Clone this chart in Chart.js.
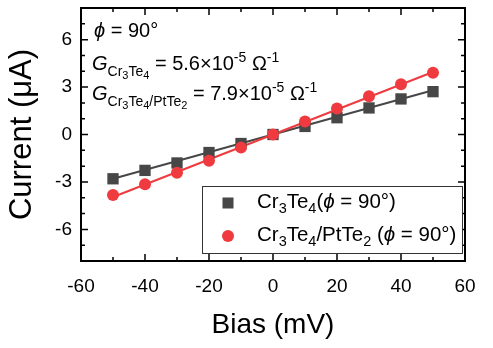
<!DOCTYPE html>
<html>
<head>
<meta charset="utf-8">
<script src="https://cdn.jsdelivr.net/npm/chart.js@4.4.1/dist/chart.umd.min.js"></script>
<style>
  html, body { margin: 0; padding: 0; background: #fff; }
  #wrap { width: 493px; height: 348px; }
</style>
</head>
<body>
<div id="wrap"><canvas id="grafica"></canvas></div>
<script>
// bias sweep (mV) and measured current (µA)
const bias = [-50, -40, -30, -20, -10, 0, 10, 20, 30, 40, 50];
const corrienteCrTe = [-2.80, -2.27, -1.80, -1.14, -0.57, 0, 0.51, 1.06, 1.68, 2.25, 2.71];
const corrientePtTe = [-3.82, -3.14, -2.42, -1.66, -0.83, 0, 0.82, 1.64, 2.42, 3.18, 3.90];

// linear fits, I = G * V  (G in 1e-5 S)
const ajusteBias = [-50, 50];
const ajusteCrTe = [-2.80, 2.80];
const ajustePtTe = [-3.95, 3.95];

const xTicks = [-60, -40, -20, 0, 20, 40, 60];
const yTicks = [-6, -3, 0, 3, 6];

const gris = "#474747";
const rojo = "#ef3b3f";
const FONT = "'Liberation Sans', Arial, sans-serif";

const toXY = (xs, ys) => xs.map((x, i) => ({ x: x, y: ys[i] }));

// text with sub/superscripts, runs = [texto, size, dy, italic]
function drawRuns(ctx, x, y, runs) {
  ctx.textBaseline = "alphabetic";
  ctx.textAlign = "left";
  runs.forEach((r) => {
    ctx.font = (r[3] ? "italic " : "") + r[1] + "px " + FONT;
    ctx.fillText(r[0], x, y + r[2]);
    x += ctx.measureText(r[0]).width;
  });
  return x;
}

const txt = (t) => [t, 20, 0, false];
const ital = (t) => [t, 20, 0, true];
const sub = (t) => [t, 14, 6, false];
const sub2 = (t) => [t, 11, 9, false];
const sup = (t) => [t, 14, -8, false];
const leyTxt = (t) => [t, 20.5, 0, false];
const leyIt = (t) => [t, 20.5, 0, true];
const leySub = (t) => [t, 14.5, 5, false];

const marcoPlugin = {
  id: "marco",
  afterDatasetsDraw(chart) {
    const ctx = chart.ctx;
    const a = chart.chartArea;
    const xs = chart.scales.x;
    const ys = chart.scales.y;
    ctx.save();
    ctx.strokeStyle = "#000";

    // ticks hacia adentro en los cuatro lados
    ctx.lineWidth = 1.5;
    xs.ticks.forEach((t) => {
      const px = xs.getPixelForValue(t.value);
      const len = xTicks.includes(t.value) ? 7 : 4;
      ctx.beginPath();
      ctx.moveTo(px, a.bottom); ctx.lineTo(px, a.bottom - len);
      ctx.moveTo(px, a.top); ctx.lineTo(px, a.top + len);
      ctx.stroke();
    });
    ys.ticks.forEach((t) => {
      const py = ys.getPixelForValue(t.value);
      const len = yTicks.includes(t.value) ? 7 : 4;
      ctx.beginPath();
      ctx.moveTo(a.left, py); ctx.lineTo(a.left + len, py);
      ctx.moveTo(a.right, py); ctx.lineTo(a.right - len, py);
      ctx.stroke();
    });

    ctx.lineWidth = 2;
    ctx.strokeRect(a.left, a.top, a.right - a.left, a.bottom - a.top);

    // anotaciones
    ctx.fillStyle = "#000";
    drawRuns(ctx, 94, 37, [ital("ϕ"), txt(" = 90°")]);
    drawRuns(ctx, 92, 70, [ital("G"), sub("Cr"), sub2("3"), sub("Te"), sub2("4"),
      txt(" = 5.6×10"), sup("-5"), txt(" Ω"), sup("-1")]);
    drawRuns(ctx, 92, 100, [ital("G"), sub("Cr"), sub2("3"), sub("Te"), sub2("4"),
      sub("/PtTe"), sub2("2"), txt(" = 7.9×10"), sup("-5"), txt(" Ω"), sup("-1")]);

    // leyenda
    const lx = 202, ly = 186, lw = 260, lh = 67;
    ctx.fillStyle = "#fff";
    ctx.fillRect(lx, ly, lw, lh);
    ctx.lineWidth = 1;
    ctx.strokeStyle = "#333";
    ctx.strokeRect(lx + 0.5, ly + 0.5, lw, lh);

    ctx.fillStyle = gris;
    ctx.fillRect(228 - 5.5, 203 - 5.5, 11, 11);
    ctx.fillStyle = rojo;
    ctx.beginPath();
    ctx.arc(228, 236, 6, 0, Math.PI * 2);
    ctx.fill();

    ctx.fillStyle = "#000";
    drawRuns(ctx, 257, 208, [leyTxt("Cr"), leySub("3"), leyTxt("Te"), leySub("4"),
      leyTxt("("), leyIt("ϕ"), leyTxt(" = 90°)")]);
    drawRuns(ctx, 257, 241, [leyTxt("Cr"), leySub("3"), leyTxt("Te"), leySub("4"),
      leyTxt("/PtTe"), leySub("2"), leyTxt(" ("), leyIt("ϕ"), leyTxt(" = 90°)")]);
    ctx.restore();
  },
};

const ctx = document.getElementById("grafica").getContext("2d");
window.myChart = new Chart(ctx, {
  type: "scatter",
  data: {
    datasets: [
      {
        label: "Cr3Te4/PtTe2 (ϕ = 90°)",
        data: toXY(bias, corrientePtTe),
        pointStyle: "circle",
        pointRadius: 6,
        backgroundColor: rojo,
        borderWidth: 0,
        order: 0,
      },
      {
        label: "Cr3Te4 (ϕ = 90°)",
        data: toXY(bias, corrienteCrTe),
        pointStyle: "rect",
        pointRadius: 8,
        backgroundColor: gris,
        borderWidth: 0,
        order: 1,
      },
      {
        label: "ajuste PtTe2",
        data: toXY(ajusteBias, ajustePtTe),
        showLine: true,
        pointRadius: 0,
        borderColor: rojo,
        borderWidth: 2,
        order: 2,
      },
      {
        label: "ajuste Cr3Te4",
        data: toXY(ajusteBias, ajusteCrTe),
        showLine: true,
        pointRadius: 0,
        borderColor: gris,
        borderWidth: 2,
        order: 3,
      },
    ],
  },
  options: {
    responsive: true,
    maintainAspectRatio: false,
    animation: false,
    layout: { padding: { top: 2, right: 28, left: 0, bottom: 0 } },
    plugins: { legend: { display: false }, tooltip: { enabled: false } },
    scales: {
      x: {
        type: "linear",
        min: -60,
        max: 60,
        grid: { display: false, drawTicks: false },
        border: { display: false },
        ticks: {
          stepSize: 10,
          autoSkip: false,
          maxRotation: 0,
          padding: 14,
          color: "#000",
          font: { family: FONT, size: 19 },
          callback: (v) => (xTicks.includes(v) ? v : ""),
        },
        title: {
          display: true,
          text: "Bias (mV)",
          color: "#000",
          font: { family: FONT, size: 28 },
          padding: { top: 0, bottom: 6 },
        },
        afterFit: (s) => {
          s.height = 87;
          s.paddingLeft = 0;
          s.paddingRight = 0;
        },
      },
      y: {
        min: -8,
        max: 8,
        grid: { display: false, drawTicks: false },
        border: { display: false },
        ticks: {
          stepSize: 1,
          autoSkip: false,
          padding: 9,
          color: "#000",
          font: { family: FONT, size: 19 },
          callback: (v) => (yTicks.includes(v) ? v : ""),
        },
        title: {
          display: true,
          text: "Current (μA)",
          color: "#000",
          font: { family: FONT, size: 31 },
          padding: { top: 4, bottom: 0 },
        },
        afterFit: (s) => {
          s.width = 81;
          s.paddingTop = 0;
          s.paddingBottom = 0;
        },
      },
    },
  },
  plugins: [marcoPlugin],
});
</script>
</body>
</html>
